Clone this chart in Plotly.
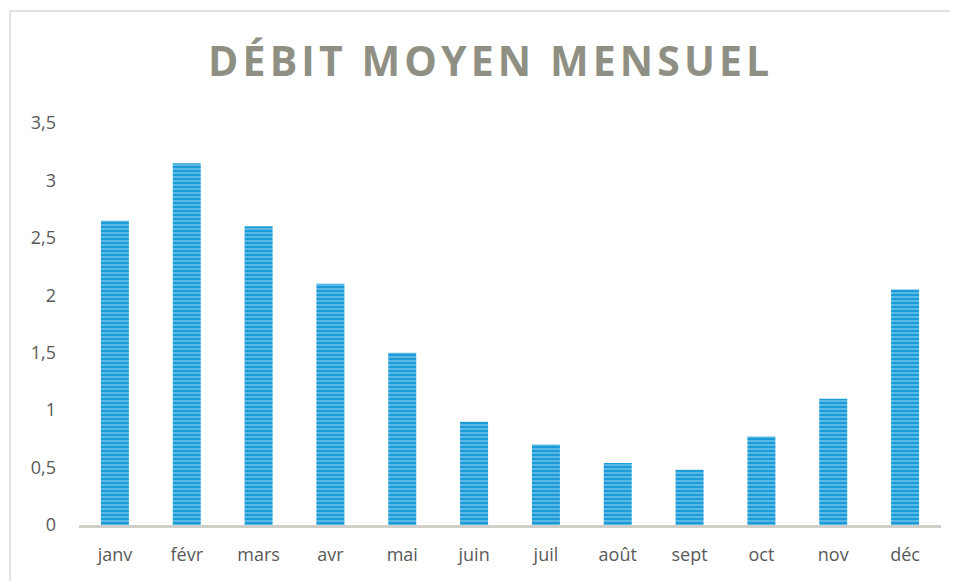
import plotly.graph_objects as go

# données
mois = ['janv', 'févr', 'mars', 'avr', 'mai', 'juin', 'juil', 'août', 'sept', 'oct', 'nov', 'déc']
debit = [2.65, 3.15, 2.60, 2.10, 1.50, 0.90, 0.70, 0.54, 0.48, 0.77, 1.10, 2.05]
y_ticks = [0, 0.5, 1, 1.5, 2, 2.5, 3, 3.5]

titre = 'DÉBIT MOYEN MENSUEL'
# espacement des lettres (plotly n'a pas de letter-spacing)
titre_espace = '\u200a'.join(titre)

fig = go.Figure()

fig.add_trace(go.Bar(
    x=mois,
    y=debit,
    marker=dict(
        color='#1B9CD8',
        line=dict(width=0),
        pattern=dict(shape='-', bgcolor='#1B9CD8', fgcolor='#A6DAF3',
                     size=4, solidity=0.45, fillmode='overlay'),
    ),
    showlegend=False,
))

# cadre du graphique
fig.add_shape(type='rect', xref='paper', yref='paper',
              x0=-0.08, x1=1.2, y0=-0.3, y1=1.2786,
              line=dict(color='#D9D9D9', width=1.5), layer='below')

fig.update_layout(
    width=950, height=573,
    margin=dict(l=71, r=17, t=115, b=56),
    paper_bgcolor='white',
    plot_bgcolor='white',
    separators=', ',
    bargap=0.61,
    title=dict(
        text='<b>' + titre_espace + '</b>',
        x=0.506, xanchor='center', y=0.906, yanchor='middle',
        font=dict(family='Open Sans', size=41, color='#8F8F84'),
    ),
    font=dict(family='Open Sans', size=18, color='#595959'),
)

fig.update_xaxes(
    showline=True, linecolor='#D0CEC9', linewidth=3,
    showgrid=False, ticks='', ticklabelstandoff=11,
    tickfont=dict(size=18, color='#595959'),
)
fig.update_yaxes(
    range=[0, 3.5], tickvals=y_ticks,
    showgrid=False, zeroline=False, showline=False,
    ticks='', ticklabelstandoff=22,
    tickfont=dict(size=18, color='#595959'),
)

fig.write_html("out.html")
